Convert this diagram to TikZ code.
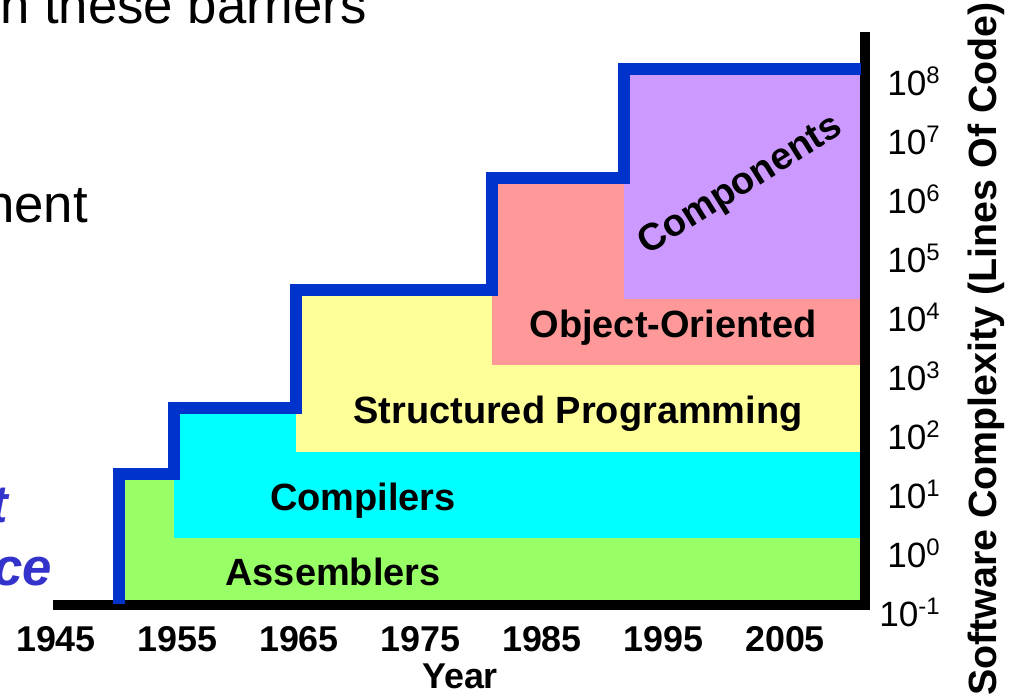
\documentclass[tikz,border=0pt]{standalone}
\usepackage{fontspec}
\setmainfont{Liberation Sans}

\definecolor{stepblue}{HTML}{0033CC}
\definecolor{asmgreen}{HTML}{99FF66}
\definecolor{compcyan}{HTML}{00FFFF}
\definecolor{structyellow}{HTML}{FFFF99}
\definecolor{oopink}{HTML}{FF9999}
\definecolor{cmpntpurple}{HTML}{CC99FF}
\definecolor{notesblue}{HTML}{3333CC}

% power of ten with a raised exponent
\newcommand{\tenpow}[1]{10\raisebox{0.34em}{\fontsize{17}{17}\selectfont #1}}

\begin{document}
\begin{tikzpicture}
        [x=0.025cm, y=-0.025cm,
        layer/.style={inner sep=0, anchor=base, font=\fontsize{27}{30}\selectfont\bfseries},
        year/.style={inner sep=0, anchor=base, font=\fontsize{25.5}{28}\selectfont\bfseries},
        tick/.style={inner sep=0, anchor=base east, font=\fontsize{25}{27}\selectfont},
        slide/.style={inner sep=0, anchor=base east, font=\fontsize{37.5}{40}\selectfont},
        notes/.style={slide, notesblue, font=\fontsize{37.5}{40}\selectfont\bfseries\itshape},
        stepline/.style={stepblue, line width=8.5pt, line join=miter},
        axisline/.style={black, line width=7pt, line join=miter}]

        \useasboundingbox (0,0) rectangle (1011,697);
        \clip (0,0) rectangle (1011,697);

        % slide text around the chart
        \node[slide] (barriers) at (367,23) {n these barriers};
        \node[slide] (nent) at (88,222) {nent};
        \node[notes] (nt) at (8,522) {t};
        \node[notes] (nce) at (52,585) {ce};

        % coloured layers
        \fill[asmgreen] (119,605) rectangle (865,474);
        \fill[compcyan] (174,538) rectangle (865,408);
        \fill[structyellow] (296,452) rectangle (865,290);
        \fill[oopink] (492,365) rectangle (865,178);
        \fill[cmpntpurple] (624,299) rectangle (865,68);

        % axes
        \draw[axisline] (53,605) -- (865,605) -- (865,32);

        % staircase of complexity
        \draw[stepline] (119,604) |- (174,474) |- (296,408) |- (492,290) |- (624,178) |- (861,69);

        % layer labels
        \node[layer] (asm) at (333,585) {Assemblers};
        \node[layer] (comp) at (363,510) {Compilers};
        \node[layer] (struct) at (578,423) {Structured Programming};
        \node[layer] (oo) at (673,337) {Object-Oriented};
        \node[layer, anchor=center, rotate=32] (cmpnt) at (741,186) {Components};

        % years
        \foreach \yr [count=\i from 0] in {1945,1955,1965,1975,1985,1995,2005}
            \node[year] (yr\i) at (56+121.5*\i,651) {\yr};
        \node[year] (yearlabel) at (460,688) {Year};

        % lines of code
        \foreach \k [count=\i from 0] in {8,7,6,5,4,3,2,1,0,-1}
            \node[tick] (loc\i) at (940,95+59*\i) {\tenpow{\k}};
        \node[rotate=90, inner sep=0, font=\fontsize{28}{30}\selectfont\bfseries] (loclabel) at (986,349) {Software Complexity (Lines Of Code)};

\end{tikzpicture}
\end{document}
